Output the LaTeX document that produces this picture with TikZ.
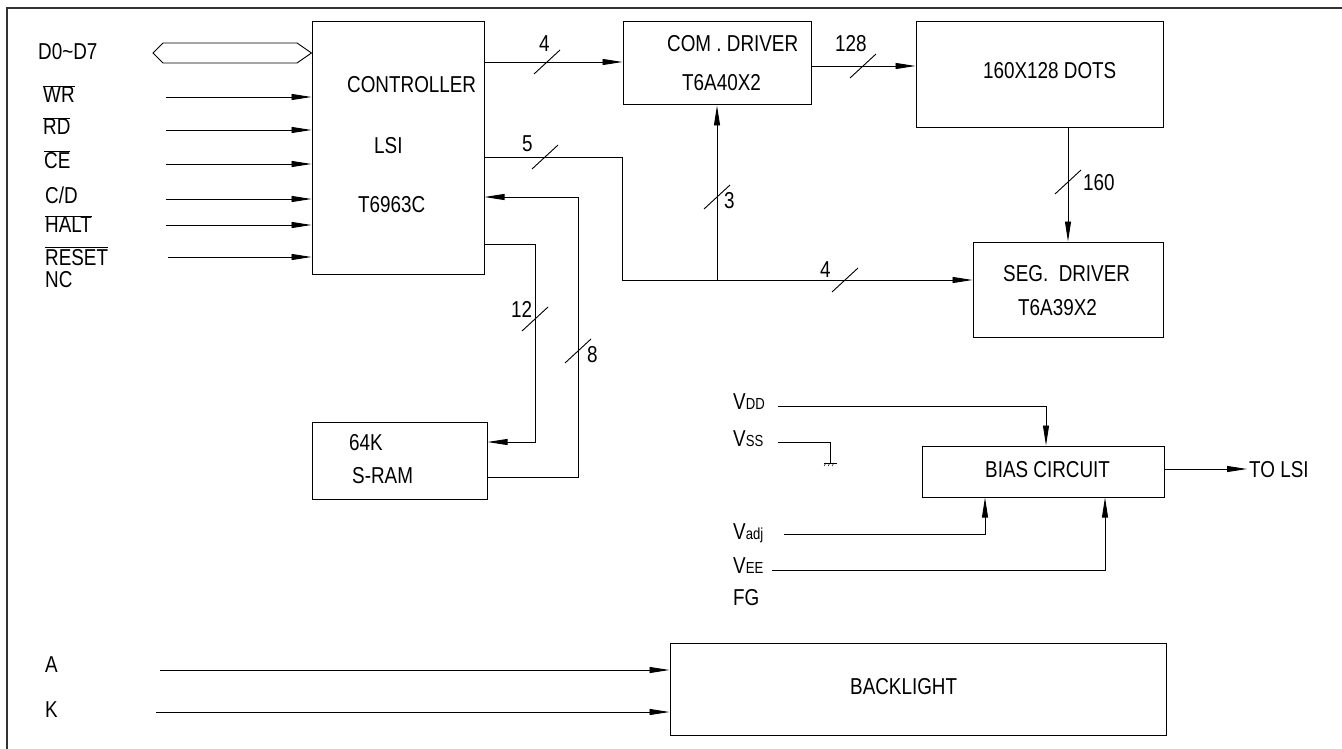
\documentclass[tikz,border=0pt]{standalone}
\usepackage{fontspec}
\setmainfont{Liberation Sans}[FakeStretch=0.82]
\usetikzlibrary{arrows.meta}
\newcommand{\ovl}[1]{$\overline{\hbox{#1}}$}
\newcommand{\sbs}[1]{{\fontsize{16}{16}\selectfont #1}}
\begin{document}
\begin{tikzpicture}[x=1pt,y=-1pt,
  box/.style={draw, line width=1pt, inner sep=0pt},
  lbl/.style={font=\fontsize{23}{27}\selectfont, inner sep=0pt, anchor=base west},
  wire/.style={line width=0.9pt},
  arr/.style={line width=0.9pt, -{Triangle[length=20pt,width=6pt]}},
  frame/.style={line width=1.6pt, draw=black!80}]
\useasboundingbox (0,0) rectangle (1342,749);
% frame
\draw[frame] (7,749) -- (7,8) -- (1342,8);

% boxes
\node[box, minimum width=172pt, minimum height=252pt] (ctrl) at (398,148) {};
\node[box, minimum width=188pt, minimum height=83pt] (com) at (717,63.5) {};
\node[box, minimum width=247pt, minimum height=106pt] (dots) at (1039.5,75) {};
\node[box, minimum width=190pt, minimum height=95pt] (seg) at (1068,289.5) {};
\node[box, minimum width=175pt, minimum height=77pt] (sram) at (399.5,460.5) {};
\node[box, minimum width=242pt, minimum height=51pt] (bias) at (1043,471.5) {};
\node[box, minimum width=496pt, minimum height=92pt] (back) at (918,689) {};

% box texts
\node[lbl] (tctrl1) at (347,93) {CONTROLLER};
\node[lbl] (tctrl2) at (374,154) {LSI};
\node[lbl] (tctrl3) at (358,212) {T6963C};
\node[lbl] (tcom1) at (667,52) {COM . DRIVER};
\node[lbl] (tcom2) at (682,91) {T6A40X2};
\node[lbl] (tdots) at (983,79) {160X128 DOTS};
\node[lbl] (tseg1) at (1003,281) {SEG.\ \ DRIVER};
\node[lbl] (tseg2) at (1018,315) {T6A39X2};
\node[lbl] (tsram1) at (349,450) {64K};
\node[lbl] (tsram2) at (352,483) {S-RAM};
\node[lbl] (tbias) at (985,477) {BIAS CIRCUIT};
\node[lbl] (ttolsi) at (1249,477) {TO LSI};
\node[lbl] (tback) at (850,694) {BACKLIGHT};

% left labels
\node[lbl] (lD) at (38,60) {D0\textasciitilde D7};
\node[lbl] (lWR) at (43,103) {\ovl{WR}};
\node[lbl] (lRD) at (43,135) {\ovl{RD}};
\node[lbl] (lCE) at (44,169) {\ovl{CE}};
\node[lbl] (lCD) at (45,204) {C/D};
\node[lbl] (lHALT) at (45,233) {\ovl{HALT}};
\node[lbl] (lRESET) at (45,265) {\ovl{RESET}};
\node[lbl] (lNC) at (45,287) {NC};
\node[lbl] (lA) at (45,672) {A};
\node[lbl] (lK) at (45,717) {K};

% power labels
\node[lbl] (lVDD) at (733,409) {V\sbs{DD}};
\node[lbl] (lVSS) at (733,446) {V\sbs{SS}};
\node[lbl] (lVadj) at (733,539) {V\sbs{adj}};
\node[lbl] (lVEE) at (733,573) {V\sbs{EE}};
\node[lbl] (lFG) at (733,605) {FG};

% bus lines numbers
\node[lbl] (n4a) at (539,52) {4};
\node[lbl] (n5) at (522,152) {5};
\node[lbl] (n128) at (835,52) {128};
\node[lbl] (n160) at (1083,190) {160};
\node[lbl] (n3) at (724,208) {3};
\node[lbl] (n4b) at (820,277) {4};
\node[lbl] (n12) at (511,317) {12};
\node[lbl] (n8) at (587,362) {8};

% data bus hexagon
\draw[wire] (153,53) -- (163,43) -- (297,43) -- (ctrl.west |- 0,53) -- (297,63) -- (163,63) -- cycle;

% input arrows
\coordinate (iWR) at (166,97);
\coordinate (iRD) at (166,130);
\coordinate (iCE) at (166,164);
\coordinate (iCD) at (166,199);
\coordinate (iHALT) at (166,225);
\coordinate (iRESET) at (168,257);
\foreach \c in {iWR,iRD,iCE,iCD,iHALT,iRESET}
  \draw[arr] (\c) -- (\c -| ctrl.west);

% controller -> com
\coordinate (y62) at (0,62);
\draw[arr] (ctrl.east |- y62) -- (com.west |- y62);
% com -> dots
\coordinate (y66) at (0,66);
\draw[arr] (com.east |- y66) -- (dots.west |- y66);
% dots -> seg
\draw[arr] (dots.south -| seg.north) -- (seg.north);
% controller -> seg and com
\coordinate (c5a) at (622,157);
\coordinate (c5b) at (622,280);
\coordinate (jn) at (717,280);
\draw[arr] (ctrl.east |- c5a) -- (c5a) -- (c5b) -- (seg.west |- c5b);
\draw[arr] (jn) -- (com.south);
% controller -> sram (12)
\coordinate (c12a) at (535,244);
\coordinate (c12b) at (535,442);
\draw[arr] (ctrl.east |- c12a) -- (c12a) -- (c12b) -- (sram.east |- c12b);
% sram -> controller (8)
\coordinate (c8a) at (578,477);
\coordinate (c8b) at (578,197);
\draw[arr] (sram.east |- c8a) -- (c8a) -- (c8b) -- (ctrl.east |- c8b);

% ticks
\foreach \p in {(547,62),(863,66),(545,157),(717,197),(845,280),(1068,182),(535,319),(578,351)}
  \draw[wire] \p ++(-13,12) -- ++(26,-24);

% power connections
\coordinate (pVDD) at (778,406);
\coordinate (pVDDb) at (1046,406);
\draw[arr] (pVDD) -- (pVDDb) -- (pVDDb |- bias.north);
\coordinate (pVSS) at (778,442);
\coordinate (pVSSb) at (830,442);
\coordinate (gnd) at (830,463);
\draw[wire] (pVSS) -- (pVSSb) -- (gnd);
\draw[wire] (824,463) -- (837,463);
\draw[line width=0.5pt] (826,463) -- ++(-2,3) (830,463) -- ++(-2,3) (834,463) -- ++(-2,3);
\coordinate (pVadj) at (784,534);
\coordinate (pVadjb) at (985,534);
\draw[arr] (pVadj) -- (pVadjb) -- (pVadjb |- bias.south);
\coordinate (pVEE) at (772,570);
\coordinate (pVEEb) at (1105,570);
\draw[arr] (pVEE) -- (pVEEb) -- (pVEEb |- bias.south);
\coordinate (yTO) at (0,469);
\coordinate (pTO) at (1247,469);
\draw[arr] (bias.east |- yTO) -- (pTO);

% backlight
\coordinate (iA) at (160,670);
\coordinate (iK) at (156,712);
\draw[arr] (iA) -- (iA -| back.west);
\draw[arr] (iK) -- (iK -| back.west);
\end{tikzpicture}
\end{document}
